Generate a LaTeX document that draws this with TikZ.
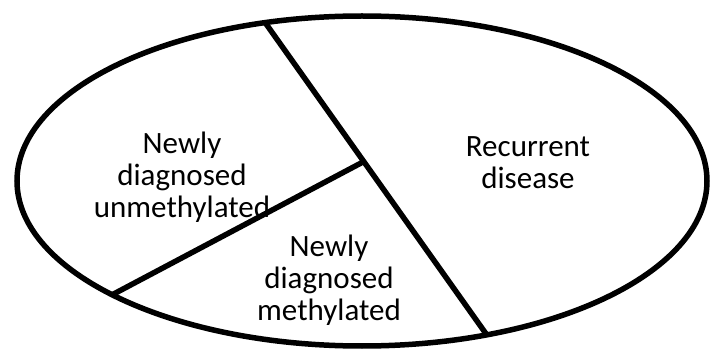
\documentclass[tikz,border=0pt]{standalone}
\usepackage{fontspec}
\setmainfont{Carlito}
\usetikzlibrary{calc}

\begin{document}
\begin{tikzpicture}[
    % one unit = one pixel of the reference, y running downwards
    x=1pt, y=-1pt,
    outline/.style={
        draw=black,
        line width=5.5pt
    },
    divider/.style={
        draw=black,
        line width=5.5pt
    },
    grouplabel/.style={
        align=center,
        inner sep=0pt,
        font=\fontsize{31}{32}\selectfont
    }
]
\useasboundingbox (0,0) rectangle (713,350);

% --- Outline ---
\coordinate (centre) at (362,181);
\draw[outline] (centre) ellipse [x radius=345, y radius=165];

% --- Points on the rim ---
\coordinate (rimtop)    at ($(centre)+(253.7:345 and 165)$);
\coordinate (rimbottom) at ($(centre)+(68.8:345 and 165)$);
\coordinate (rimleft)   at ($(centre)+(136.4:345 and 165)$);
\coordinate (junction)  at ($(rimtop)!0.445!(rimbottom)$);

% --- Dividers ---
\draw[divider] (rimtop) -- (rimbottom);
\draw[divider] (rimleft) -- (junction);

% --- Labels ---
\node[grouplabel] (unmethylated) at (182,177) {Newly\\diagnosed\\unmethylated};
\node[grouplabel] (recurrent) at (528,163) {Recurrent\\disease};
\node[grouplabel] (methylated) at (329,280) {Newly\\diagnosed\\methylated};

\end{tikzpicture}
\end{document}
